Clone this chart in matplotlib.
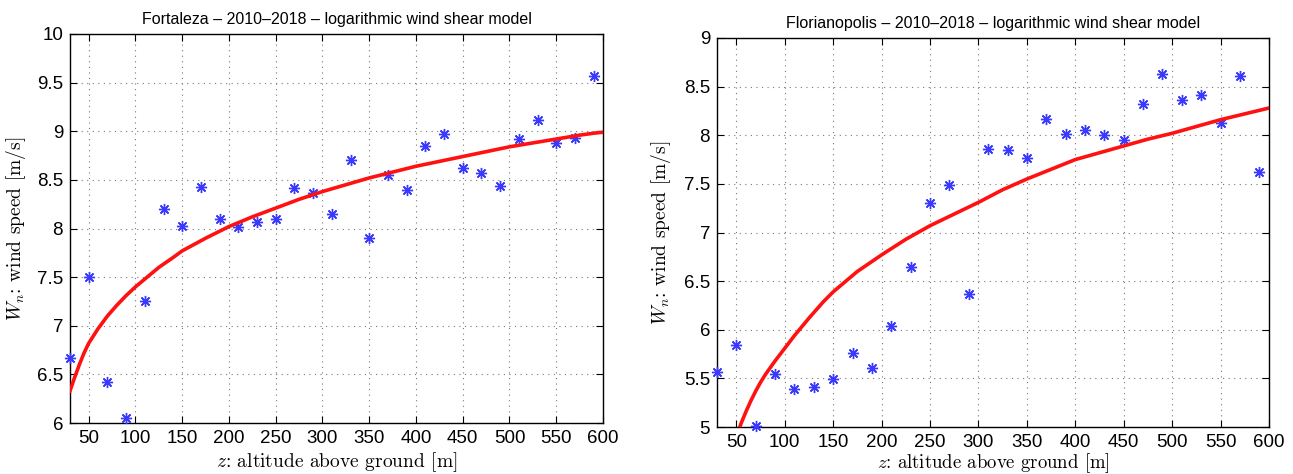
import numpy as np
import matplotlib
matplotlib.use('Agg')
import matplotlib.pyplot as plt
from matplotlib.ticker import FormatStrFormatter, MultipleLocator

# altitudes of the measured points [m]
z_pts = list(range(30, 600, 20))

# Fortaleza measured mean wind speed
fort_pts = [6.67, 7.50, 6.42, 6.05, 7.25, 8.20, 8.03, 8.43, 8.10, 8.02,
            8.07, 8.10, 8.42, 8.37, 8.15, 8.70, 7.90, 8.55, 8.40, 8.85,
            8.97, 8.62, 8.57, 8.44, 8.92, 9.12, 8.88, 8.93, 9.57]
# Fortaleza fitted log profile
fort_z_fit = [30, 35, 40, 45, 50, 60, 70, 80, 90, 100, 110, 125, 140, 150,
              175, 200, 225, 250, 275, 300, 325, 350, 375, 400, 425, 450,
              475, 500, 525, 550, 575, 590, 600]
fort_fit = [6.33, 6.47, 6.60, 6.72, 6.82, 6.97, 7.10, 7.21, 7.31, 7.40,
            7.48, 7.60, 7.70, 7.77, 7.90, 8.02, 8.12, 8.21, 8.30, 8.38,
            8.45, 8.52, 8.58, 8.64, 8.69, 8.74, 8.79, 8.84, 8.88, 8.92,
            8.96, 8.98, 8.99]

# Florianopolis measured mean wind speed
flor_pts = [5.57, 5.84, 5.01, 5.54, 5.39, 5.41, 5.49, 5.76, 5.61, 6.04,
            6.65, 7.30, 7.49, 6.37, 7.86, 7.85, 7.77, 8.17, 8.01, 8.05,
            8.00, 7.95, 8.32, 8.63, 8.36, 8.41, 8.13, 8.61, 7.62]
flor_z_fit = [50, 55, 60, 65, 70, 75, 80, 90, 100, 110, 125, 140, 150, 175,
              200, 225, 250, 275, 300, 325, 350, 375, 400, 425, 450, 475,
              500, 525, 550, 575, 600]
flor_fit = [4.90, 5.04, 5.16, 5.27, 5.37, 5.46, 5.54, 5.68, 5.81, 5.94,
            6.12, 6.29, 6.39, 6.60, 6.77, 6.93, 7.07, 7.19, 7.31, 7.44,
            7.55, 7.65, 7.75, 7.82, 7.89, 7.96, 8.02, 8.09, 8.16, 8.22,
            8.28]

plt.rcParams['font.family'] = ['Liberation Sans', 'DejaVu Sans']
plt.rcParams['mathtext.fontset'] = 'cm'

fig = plt.figure(figsize=(12.93, 4.74), dpi=100)
W, H = 1293., 474.
ax1 = fig.add_axes([70/W, 1-423/H, 533/W, 389/H])
ax2 = fig.add_axes([717/W, 1-427/H, 552/W, 389/H])

star = (8, 2, 0)


def style(ax, title, ylo, yhi, ylpad, xlpad, xlsize):
    ax.set_xlim(30, 600)
    ax.set_ylim(ylo, yhi)
    ax.xaxis.set_major_locator(MultipleLocator(50))
    ax.yaxis.set_major_locator(MultipleLocator(0.5))
    ax.yaxis.set_major_formatter(FormatStrFormatter('%g'))
    ax.grid(True, linestyle=(0, (1, 4)), color='#777777', linewidth=0.8)
    ax.tick_params(direction='in', top=True, right=True, labelsize=13.5,
                   length=5, width=0.8, pad=5)
    for s in ax.spines.values():
        s.set_linewidth(1.0)
    ax.set_title(title, fontsize=11.5, pad=7)
    ax.set_xlabel(r'$z$: altitude above ground [m]', fontsize=xlsize,
                  family='cmr10', labelpad=xlpad)
    ax.set_ylabel(r'$W_n$: wind speed [m/s]', fontsize=14,
                  family='cmr10', labelpad=ylpad)


ax1.plot(z_pts, fort_pts, linestyle='none', marker=star, markersize=8,
         color='#3a3aff', markeredgewidth=1.0, clip_on=False, zorder=3)
ax1.plot(fort_z_fit, fort_fit, color='#ff1111', linewidth=2.6, zorder=4)
style(ax1, 'Fortaleza – 2010–2018 – logarithmic wind shear model',
      6, 10, 6, 2, 14)

ax2.plot(z_pts, flor_pts, linestyle='none', marker=star, markersize=8,
         color='#3a3aff', markeredgewidth=1.0, clip_on=False, zorder=3)
ax2.plot(flor_z_fit, flor_fit, color='#ff1111', linewidth=2.6, zorder=4)
style(ax2, 'Florianopolis – 2010–2018 – logarithmic wind shear model',
      5, 9, 8, 0, 13.5)

fig.savefig('out.png', dpi=100)
